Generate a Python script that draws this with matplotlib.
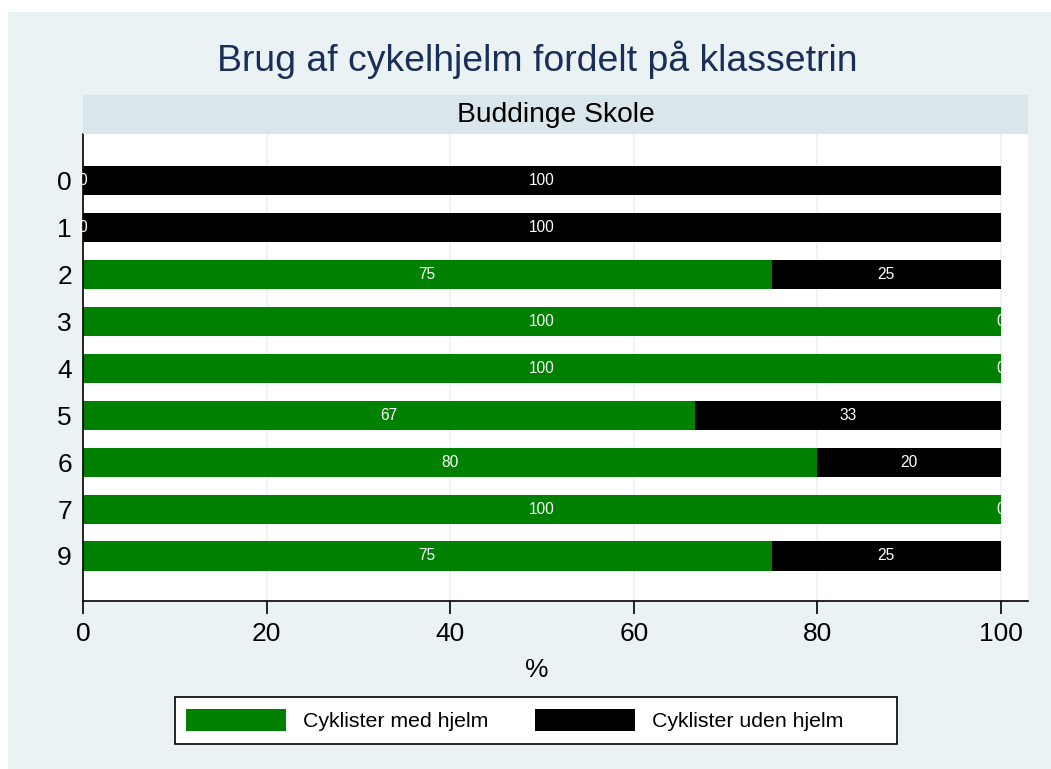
import matplotlib
matplotlib.use("Agg")
import matplotlib.pyplot as plt
from matplotlib.patches import Rectangle, Patch

plt.rcParams['font.family'] = ['Liberation Sans', 'DejaVu Sans']

grades = ["0", "1", "2", "3", "4", "5", "6", "7", "9"]
med_hjelm = [0, 0, 75, 100, 100, 66.7, 80, 100, 75]
uden_hjelm = [100, 100, 25, 0, 0, 33.3, 20, 0, 25]
series_names = ["Cyklister med hjelm", "Cyklister uden hjelm"]
title = "Brug af cykelhjelm fordelt på klassetrin"
school = "Buddinge Skole"

W, H = 1051, 769
fig = plt.figure(figsize=(W / 100, H / 100), dpi=100, facecolor="white")

def fx(px): return px / W
def fy(py): return 1 - py / H

# graph region background
bg = fig.add_axes([fx(8), 0, 1 - fx(8), fy(12)], zorder=-10)
bg.set_facecolor("#eaf2f3")
bg.set_xticks([]); bg.set_yticks([])
for s in bg.spines.values():
    s.set_visible(False)

# plot axes
L, R, T, B = 83, 1028, 134, 601
ax = fig.add_axes([fx(L), fy(B), fx(R) - fx(L), (B - T) / H])
ax.set_facecolor("white")
y = list(range(len(grades)))
green = "#008000"
ax.barh(y, med_hjelm, height=0.62, color=green, zorder=2)
ax.barh(y, uden_hjelm, left=med_hjelm, height=0.62, color="black", zorder=2)
for i in y:
    ax.text(med_hjelm[i] / 2, i, f"{med_hjelm[i]:.0f}", color="white", ha="center",
            va="center", fontsize=11.2, zorder=3, clip_on=False)
    ax.text(med_hjelm[i] + uden_hjelm[i] / 2, i, f"{uden_hjelm[i]:.0f}", color="white",
            ha="center", va="center", fontsize=11.2, zorder=3, clip_on=False)

ax.set_xlim(0, 102.94)
ax.set_ylim(8.96, -1.0)
ax.set_yticks(y)
ax.set_yticklabels(grades, fontsize=19)
ax.tick_params(axis="y", length=0, pad=8)
ax.set_xticks([0, 20, 40, 60, 80, 100])
ax.tick_params(axis="x", length=9, width=1.2, labelsize=19, pad=6, direction="out")
ax.xaxis.grid(True, color="#eaf2f3", linewidth=1.2, zorder=0)
ax.set_axisbelow(True)
for s in ["top", "right"]:
    ax.spines[s].set_visible(False)
ax.spines["left"].set_linewidth(1.2)
ax.spines["bottom"].set_linewidth(1.2)

fig.text(fx(537), fy(670), "%", ha="center", va="center", fontsize=19)

# strip
sax = fig.add_axes([fx(L), fy(134), fx(R) - fx(L), (134 - 95) / H])
sax.set_facecolor("#d9e6eb")
sax.set_xticks([]); sax.set_yticks([])
for s in sax.spines.values():
    s.set_visible(False)
sax.text(0.5, 0.5, school, ha="center", va="center", fontsize=20.3, transform=sax.transAxes)

fig.text(fx(537), fy(60), title, ha="center", va="center", fontsize=26.9, color="#1a2e5a")

# legend
fig.patches.append(Rectangle((fx(175), fy(744)), fx(897) - fx(175), (744 - 697) / H,
                             transform=fig.transFigure, facecolor="white",
                             edgecolor="black", linewidth=1.2, zorder=1))
handles = [Patch(facecolor=green, edgecolor="none"), Patch(facecolor="black", edgecolor="none")]
leg = fig.legend(handles, series_names, loc="center left", bbox_to_anchor=(fx(186), fy(720)),
                 ncol=2, fontsize=15.3, frameon=False,
                 handlelength=4.7, handleheight=1.22, handletextpad=0.8, columnspacing=2.2,
                 borderpad=0, borderaxespad=0)
leg.set_zorder(2)

fig.savefig("out.png", dpi=100, facecolor="white")
